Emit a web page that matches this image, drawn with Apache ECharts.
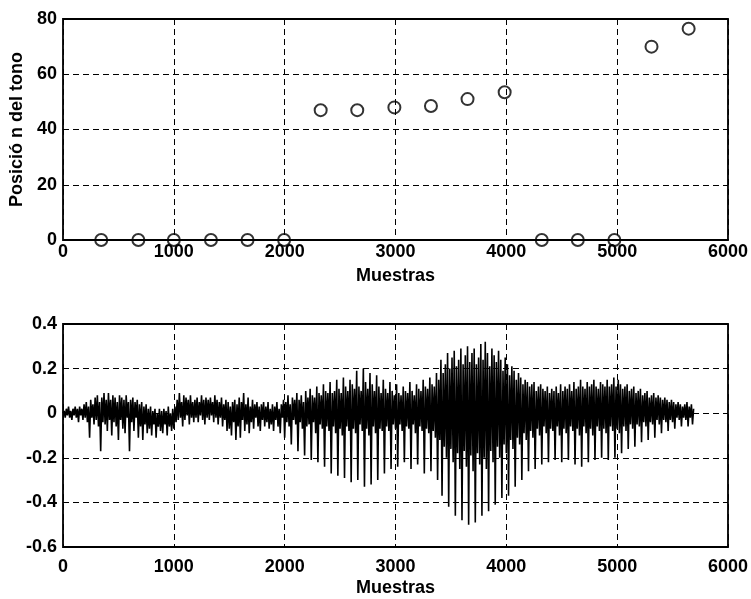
<!DOCTYPE html>
<html>
<head>
<meta charset="utf-8">
<script src="https://cdn.jsdelivr.net/npm/echarts@6/dist/echarts.min.js"></script>
<style>
  html, body { margin: 0; padding: 0; background: #fff; }
  #chart { width: 751px; height: 599px; }
</style>
</head>
<body>
<div id="chart"></div>
<script>
// Tone position detected for each analysis frame
const toneSamples = [345, 680, 1000, 1335, 1665, 1995, 2325, 2655, 2990, 3320, 3650, 3985, 4320, 4645, 4975, 5310, 5645];
const tonePositions = [0, 0, 0, 0, 0, 0, 47, 47, 48, 48.5, 51, 53.5, 0, 0, 0, 70, 76.5];

// Speech waveform, one value every 10 samples (one row = 100 samples)
const waveStep = 10;
const waveValues = [
  0.00, 0.01, -0.02, 0.02, -0.01, 0.03, -0.02, 0.01, -0.03, 0.02,
  -0.01, 0.03, -0.02, 0.02, -0.04, 0.03, -0.01, 0.02, -0.03, 0.04,
  -0.02, 0.05, -0.04, 0.03, -0.11, 0.06, -0.02, 0.04, -0.05, 0.07,
  -0.03, 0.08, -0.06, 0.05, -0.17, 0.07, -0.04, 0.09, -0.05, 0.06,
  -0.08, 0.09, -0.03, 0.06, -0.10, 0.08, -0.04, 0.07, -0.06, 0.05,
  -0.12, 0.08, -0.03, 0.07, -0.07, 0.06, -0.09, 0.08, -0.02, 0.05,
  -0.17, 0.06, -0.04, 0.07, -0.08, 0.05, -0.02, 0.06, -0.11, 0.04,
  -0.06, 0.05, -0.12, 0.03, -0.05, 0.04, -0.09, 0.02, -0.07, 0.03,
  -0.10, 0.01, -0.05, 0.02, -0.11, 0.00, -0.06, 0.02, -0.08, 0.01,
  -0.09, 0.02, -0.05, 0.01, -0.10, 0.03, -0.06, 0.00, -0.08, 0.02,
  -0.07, 0.03, -0.04, 0.06, -0.03, 0.09, -0.02, 0.05, -0.06, 0.08,
  -0.03, 0.07, -0.01, 0.06, -0.05, 0.08, -0.02, 0.05, -0.04, 0.06,
  -0.02, 0.07, -0.04, 0.05, -0.01, 0.08, -0.03, 0.06, -0.05, 0.07,
  -0.02, 0.06, -0.03, 0.07, -0.01, 0.05, -0.04, 0.08, -0.02, 0.06,
  -0.05, 0.05, -0.02, 0.07, -0.06, 0.04, -0.03, 0.06, -0.08, 0.05,
  -0.07, 0.03, -0.10, 0.05, -0.04, 0.06, -0.12, 0.04, -0.06, 0.07,
  -0.11, 0.05, -0.03, 0.09, -0.08, 0.04, -0.05, 0.07, -0.09, 0.03,
  -0.04, 0.06, -0.07, 0.04, -0.02, 0.05, -0.06, 0.03, -0.08, 0.04,
  -0.03, 0.05, -0.06, 0.03, -0.04, 0.05, -0.07, 0.02, -0.05, 0.04,
  -0.08, 0.03, -0.03, 0.05, -0.06, 0.02, -0.09, 0.04, -0.02, 0.06,
  -0.11, 0.05, -0.04, 0.08, -0.06, 0.04, -0.14, 0.07, -0.03, 0.06,
  -0.05, 0.09, -0.17, 0.06, -0.04, 0.08, -0.07, 0.05, -0.19, 0.10,
  -0.06, 0.07, -0.05, 0.11, -0.21, 0.08, -0.04, 0.07, -0.09, 0.12,
  -0.22, 0.09, -0.05, 0.08, -0.07, 0.13, -0.24, 0.10, -0.06, 0.09,
  -0.08, 0.14, -0.27, 0.09, -0.06, 0.10, -0.09, 0.15, -0.28, 0.11,
  -0.07, 0.09, -0.10, 0.16, -0.29, 0.12, -0.06, 0.10, -0.08, 0.15,
  -0.31, 0.13, -0.07, 0.11, -0.09, 0.19, -0.30, 0.12, -0.05, 0.10,
  -0.08, 0.20, -0.33, 0.14, -0.07, 0.11, -0.10, 0.18, -0.32, 0.13,
  -0.06, 0.10, -0.09, 0.17, -0.30, 0.12, -0.07, 0.09, -0.08, 0.15,
  -0.27, 0.11, -0.06, 0.09, -0.08, 0.14, -0.25, 0.10, -0.05, 0.08,
  -0.07, 0.13, -0.24, 0.09, -0.05, 0.08, -0.08, 0.12, -0.22, 0.10,
  -0.06, 0.09, -0.07, 0.14, -0.25, 0.10, -0.05, 0.08, -0.09, 0.13,
  -0.23, 0.11, -0.06, 0.10, -0.08, 0.15, -0.27, 0.12, -0.07, 0.11,
  -0.09, 0.16, -0.26, 0.13, -0.08, 0.12, -0.11, 0.18, -0.30, 0.15,
  -0.12, 0.24, -0.37, 0.18, -0.15, 0.22, -0.20, 0.27, -0.42, 0.20,
  -0.16, 0.25, -0.22, 0.28, -0.46, 0.21, -0.18, 0.24, -0.25, 0.29,
  -0.48, 0.22, -0.17, 0.26, -0.24, 0.30, -0.50, 0.23, -0.19, 0.27,
  -0.26, 0.29, -0.49, 0.22, -0.18, 0.25, -0.23, 0.31, -0.46, 0.24,
  -0.20, 0.32, -0.25, 0.27, -0.44, 0.21, -0.17, 0.29, -0.22, 0.26,
  -0.41, 0.23, -0.15, 0.28, -0.20, 0.24, -0.38, 0.19, -0.14, 0.25,
  -0.18, 0.22, -0.37, 0.17, -0.12, 0.21, -0.16, 0.19, -0.33, 0.15,
  -0.11, 0.18, -0.14, 0.16, -0.30, 0.13, -0.09, 0.15, -0.12, 0.14,
  -0.26, 0.12, -0.08, 0.13, -0.11, 0.14, -0.25, 0.10, -0.07, 0.12,
  -0.10, 0.13, -0.23, 0.11, -0.06, 0.10, -0.09, 0.12, -0.22, 0.09,
  -0.07, 0.11, -0.08, 0.10, -0.21, 0.12, -0.06, 0.09, -0.10, 0.13,
  -0.22, 0.10, -0.07, 0.12, -0.09, 0.11, -0.21, 0.13, -0.06, 0.10,
  -0.08, 0.14, -0.23, 0.11, -0.07, 0.12, -0.10, 0.15, -0.24, 0.12,
  -0.06, 0.11, -0.09, 0.14, -0.22, 0.12, -0.07, 0.13, -0.10, 0.15,
  -0.21, 0.12, -0.06, 0.11, -0.08, 0.14, -0.20, 0.13, -0.07, 0.12,
  -0.09, 0.15, -0.21, 0.12, -0.06, 0.13, -0.08, 0.16, -0.20, 0.12,
  -0.07, 0.15, -0.09, 0.13, -0.18, 0.11, -0.06, 0.12, -0.08, 0.13,
  -0.16, 0.10, -0.05, 0.11, -0.07, 0.12, -0.15, 0.09, -0.05, 0.10,
  -0.06, 0.11, -0.13, 0.08, -0.04, 0.09, -0.06, 0.10, -0.12, 0.07,
  -0.04, 0.08, -0.05, 0.09, -0.11, 0.07, -0.03, 0.08, -0.05, 0.07,
  -0.09, 0.06, -0.03, 0.07, -0.04, 0.06, -0.08, 0.05, -0.03, 0.06,
  -0.04, 0.05, -0.07, 0.04, -0.02, 0.05, -0.03, 0.04, -0.06, 0.03,
  -0.02, 0.04, -0.03, 0.05, -0.06, 0.03, -0.02, 0.04, -0.05, 0.02
];

const xTicks = [0, 1000, 2000, 3000, 4000, 5000, 6000];
const topYTicks = [0, 20, 40, 60, 80];
const bottomYTicks = [-0.6, -0.4, -0.2, 0, 0.2, 0.4];

const FONT = '"Liberation Sans", Arial, sans-serif';
const textStyle = { color: '#000', fontFamily: FONT, fontSize: 18, fontWeight: 'bold' };
const dashed = { show: true, lineStyle: { color: '#000', type: [6, 4], width: 1 } };

function xAxisFor(gridIndex, labelMargin, nameGap) {
  return {
    type: 'value', gridIndex,
    min: xTicks[0], max: xTicks[xTicks.length - 1], interval: 1000,
    name: 'Muestras', nameLocation: 'middle', nameGap,
    nameTextStyle: textStyle,
    axisLine: { show: false }, axisTick: { show: false },
    axisLabel: Object.assign({ margin: labelMargin, formatter: v => String(v) }, textStyle),
    splitLine: dashed
  };
}

const chart = echarts.init(document.getElementById('chart'), null, { renderer: 'canvas' });
chart.setOption({
  animation: false,
  backgroundColor: '#fff',
  grid: [
    { left: 63, right: 23, top: 19, height: 221, show: true, borderColor: '#000', borderWidth: 1.8, backgroundColor: 'transparent' },
    { left: 63, right: 22, top: 324, height: 223, show: true, borderColor: '#000', borderWidth: 1.8, backgroundColor: 'transparent' }
  ],
  xAxis: [xAxisFor(0, 3, 27), xAxisFor(1, 11, 32)],
  yAxis: [
    {
      type: 'value', gridIndex: 0,
      min: topYTicks[0], max: topYTicks[topYTicks.length - 1], interval: 20,
      name: 'Posició n del tono', nameLocation: 'middle', nameGap: 37, nameRotate: 90,
      nameTextStyle: textStyle,
      axisLine: { show: false }, axisTick: { show: false },
      axisLabel: Object.assign({ margin: 6 }, textStyle),
      splitLine: dashed
    },
    {
      type: 'value', gridIndex: 1,
      min: bottomYTicks[0], max: bottomYTicks[bottomYTicks.length - 1], interval: 0.2,
      axisLine: { show: false }, axisTick: { show: false },
      axisLabel: Object.assign({ margin: 6, formatter: v => String(+v.toFixed(1)) }, textStyle),
      splitLine: dashed
    }
  ],
  series: [
    {
      type: 'scatter', xAxisIndex: 0, yAxisIndex: 0,
      symbol: 'circle', symbolSize: 12,
      itemStyle: { color: 'rgba(0,0,0,0)', borderColor: '#000', borderWidth: 2 },
      data: toneSamples.map((s, i) => [s, tonePositions[i]]),
      z: 5
    },
    {
      type: 'line', xAxisIndex: 1, yAxisIndex: 1,
      showSymbol: false, symbol: 'none',
      lineStyle: { color: '#000', width: 1.6 },
      data: waveValues.map((v, i) => [i * waveStep, v]),
      z: 5
    }
  ]
});
</script>
</body>
</html>
